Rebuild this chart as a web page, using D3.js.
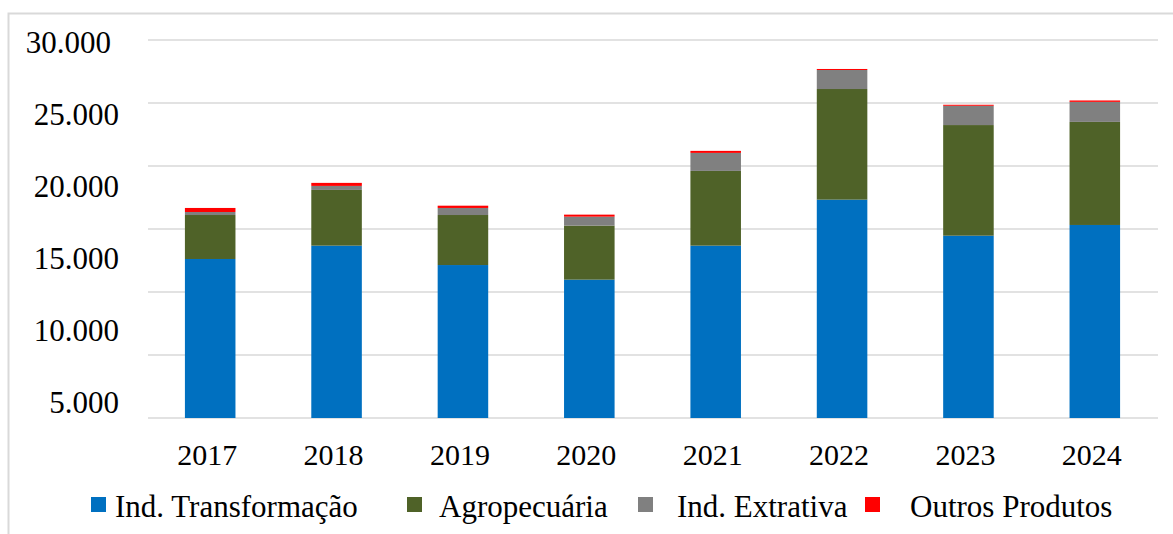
<!DOCTYPE html>
<html>
<head>
<meta charset="utf-8">
<script src="https://cdn.jsdelivr.net/npm/d3@7"></script>
<style>
  body { margin: 0; background: #fff; }
  svg text { font-family: "Liberation Serif", "Times New Roman", Times, "DejaVu Serif", serif; fill: #000; }
</style>
</head>
<body>
<script>
// values (stacked, bottom to top)
var years = ["2017", "2018", "2019", "2020", "2021", "2022", "2023", "2024"];
var indTransformacao = [12620, 13680, 12140, 10980, 13680, 17330, 14470, 15320];
var agropecuaria = [3490, 4420, 3970, 4290, 5930, 8780, 8780, 8180];
var indExtrativa = [240, 320, 560, 710, 1430, 1510, 1530, 1590];
var outrosProdutos = [320, 240, 180, 160, 160, 80, 80, 110];
var seriesNames = ["Ind. Transformação", "Agropecuária", "Ind. Extrativa", "Outros Produtos"];
var seriesColors = ["#0070C0", "#4F6228", "#808080", "#FF0000"];
var gridValues = [0, 5000, 10000, 15000, 20000, 25000, 30000];
var tickLabels = [5000, 10000, 15000, 20000, 25000, 30000];

var w = 1173, h = 534;
var serif = "'Liberation Serif', 'Times New Roman', Times, 'DejaVu Serif', serif";

var data = years.map(function(y, i) {
  return {year: y, s0: indTransformacao[i], s1: agropecuaria[i], s2: indExtrativa[i], s3: outrosProdutos[i]};
});
var keys = ["s0", "s1", "s2", "s3"];

var svg = d3.select("body").append("svg")
    .attr("width", w)
    .attr("height", h)
    .attr("font-family", serif);

// light frame (top and left edges show in the picture)
svg.append("path")
    .attr("d", "M8.5," + h + " V13.5 H" + w)
    .attr("fill", "none")
    .attr("stroke", "#D9D9D9")
    .attr("stroke-width", 2);

var x = d3.scaleBand()
    .domain(years)
    .range([147, 1158])
    .paddingInner(0.6)
    .paddingOuter(0.3);

var y = d3.scaleLinear()
    .domain([0, 30000])
    .range([418, 40]);

// tick labels sit on their own spacing in the original
var yLabel = d3.scaleLinear()
    .domain([5000, 30000])
    .range([412.5, 53]);

svg.selectAll(".grid")
    .data(gridValues)
    .enter().append("line")
    .attr("class", "grid")
    .attr("x1", 148)
    .attr("x2", 1158)
    .attr("y1", function(d) { return y(d); })
    .attr("y2", function(d) { return y(d); })
    .attr("stroke", "#D9D9D9")
    .attr("stroke-width", 1.5);

var fmt = function(d) { return d3.format(",")(d).replace(/,/g, "."); };

svg.selectAll(".ylab")
    .data(tickLabels)
    .enter().append("text")
    .attr("class", "ylab")
    .attr("x", function(d) { return d === 30000 ? 111 : 119; })
    .attr("y", function(d) { return yLabel(d); })
    .attr("text-anchor", "end")
    .style("font-family", serif)
    .style("font-size", "31px")
    .text(fmt);

var stack = d3.stack().keys(keys);

var layers = svg.selectAll(".layer")
    .data(stack(data))
    .enter().append("g")
    .attr("class", "layer")
    .attr("fill", function(d, i) { return seriesColors[i]; });

layers.selectAll("rect")
    .data(function(d) { return d; })
    .enter().append("rect")
    .attr("x", function(d) { return x(d.data.year); })
    .attr("width", x.bandwidth())
    .attr("y", function(d) { return y(d[1]); })
    .attr("height", function(d) { return y(d[0]) - y(d[1]); });

svg.selectAll(".xlab")
    .data(years)
    .enter().append("text")
    .attr("class", "xlab")
    .attr("x", function(d) { return x(d) + x.bandwidth() / 2 - 3; })
    .attr("y", 465)
    .attr("text-anchor", "middle")
    .style("font-family", serif)
    .style("font-size", "30px")
    .text(function(d) { return d; });

// legend
var legendSwatchX = [91, 407, 638, 865];
var legendTextX = [115, 439, 677, 910];

var legend = svg.selectAll(".legend")
    .data(seriesNames)
    .enter().append("g")
    .attr("class", "legend");

legend.append("rect")
    .attr("x", function(d, i) { return legendSwatchX[i]; })
    .attr("y", 497)
    .attr("width", 15)
    .attr("height", 15)
    .attr("fill", function(d, i) { return seriesColors[i]; });

legend.append("text")
    .attr("x", function(d, i) { return legendTextX[i]; })
    .attr("y", 517)
    .style("font-family", serif)
    .style("font-size", "31px")
    .text(function(d) { return d; });
</script>
</body>
</html>
